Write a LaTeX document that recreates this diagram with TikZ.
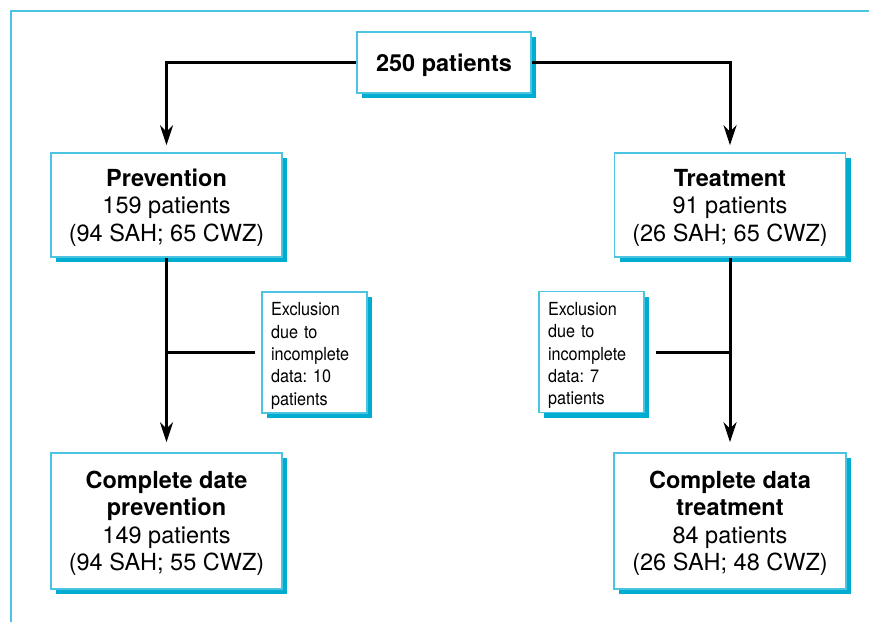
\documentclass[tikz,border=0pt]{standalone}
\usepackage{fontspec}
\setmainfont{TeX Gyre Heros}
\newfontfamily\condfont[FakeStretch=0.9]{TeX Gyre Heros}
\usetikzlibrary{arrows.meta,shadows,positioning}
\definecolor{boxline}{RGB}{75,195,225}
\definecolor{boxshade}{RGB}{0,172,208}
\frenchspacing

\begin{document}
\begin{tikzpicture}[x=1pt,y=-1pt,>={Stealth[length=20pt,width=13pt]},line width=3pt,
	every node/.style={draw=boxline,line width=1.5pt,fill=white,align=center,
		drop shadow={shadow xshift=5pt,shadow yshift=-5pt,fill=boxshade,opacity=1},
		font=\fontsize{23.5}{27.5}\selectfont},
	bigbox/.style={minimum width=231pt,minimum height=104pt,text depth=0pt},
	exclbox/.style={text width=87pt,inner xsep=9pt,minimum height=121pt,align=left,
		text height=20pt,
		font=\condfont\fontsize{18}{22.3}\selectfont}]

\useasboundingbox (0,0) rectangle (869,622);
\draw[boxline,line width=2pt] (869,11) -- (11,11) -- (11,622);

\node (all) at (444,62.5) [minimum width=174pt,minimum height=61pt,text depth=0pt] {\textbf{250 patients}};
 \node[bigbox] (prev) at (166.5,205) {\textbf{Prevention}\\159 patients\\(94 SAH; 65 CWZ)};
	\node[bigbox] (treat) at (730,205) {\textbf{Treatment}\\91 patients\\(26 SAH; 65 CWZ)};
	\node[exclbox] (prevout) at (314.5,352.5) {Exclusion\\due to\\incomplete\\data: 10\\patients};
	\node[exclbox] (treatout) at (591.5,352) {Exclusion\\due to\\incomplete\\data: 7\\patients};
		\node[bigbox,minimum height=136pt] (prevdone) at (166.5,521) {\textbf{Complete date}\\\textbf{prevention}\\149 patients\\(94 SAH; 55 CWZ)};
			\node[bigbox,minimum width=232pt,minimum height=136pt] (treatdone) at (730,521) {\textbf{Complete data}\\\textbf{treatment}\\84 patients\\(26 SAH; 48 CWZ)};

	\draw[->,shorten >=7pt] (all.west) -| (prev.north);
	\draw[->,shorten >=7pt] (all.east) -| (treat.north);
	\draw[->,shorten >=10pt] (prev.south) -- (prevdone.north);
	\draw[->,shorten >=10pt] (treat.south) -- (treatdone.north);
	\draw[shorten <=6pt] (prevout.west) -- (prevout.west -| prev.south);
	\draw[shorten <=11pt] (treatout.east) -- (treatout.east -| treat.south);

\end{tikzpicture}
\end{document}
